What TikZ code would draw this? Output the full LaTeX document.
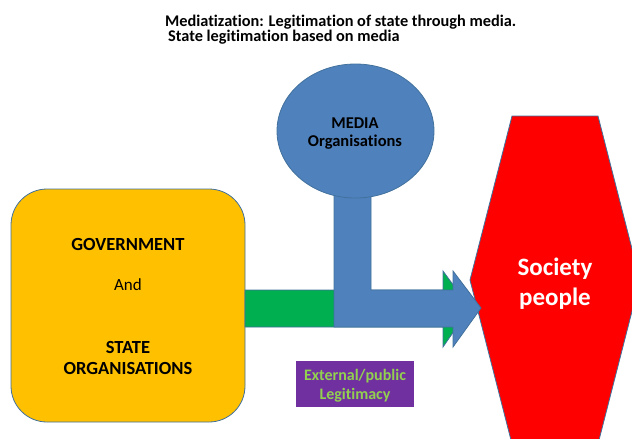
\documentclass[tikz,border=0pt]{standalone}
\usepackage{fontspec}
\setmainfont{Carlito}[Ligatures={NoCommon}]
\usetikzlibrary{shapes.geometric}
\definecolor{edge}{HTML}{41719C}
\definecolor{gold}{HTML}{FFC000}
\definecolor{grn}{HTML}{00B050}
\definecolor{blu}{HTML}{4F81BD}
\definecolor{purp}{HTML}{7030A0}
\definecolor{lgrn}{HTML}{92D050}
\tikzset{
  blk/.style={draw=edge, line width=0.8pt},
  lbl/.style={inner sep=0pt, anchor=base},
}
\begin{document}
\begin{tikzpicture}[x=1pt,y=-1pt]
\useasboundingbox (0,0) rectangle (632,439);
% title
\node[inner sep=0pt, anchor=base west, font=\bfseries\fontsize{16.3}{15}\selectfont] (t1) at (165,26) {Mediatization: Legitimation of state through media.};
\node[inner sep=0pt, anchor=base west, font=\bfseries\fontsize{16.3}{15}\selectfont] (t2) at (168,41) {State legitimation based on media};
% government box
\draw[blk, fill=gold, rounded corners=36pt] (11,189) rectangle (245,422);
\node[lbl, font=\bfseries\fontsize{18.5}{20}\selectfont] (g1) at (128,250) {GOVERNMENT};
\node[lbl, font=\fontsize{17}{18}\selectfont] (g2) at (128,290) {And};
\node[lbl, font=\bfseries\fontsize{18.5}{20}\selectfont] (g3) at (128,353) {STATE};
\node[lbl, font=\bfseries\fontsize{18.5}{20}\selectfont] (g4) at (128,374) {ORGANISATIONS};
% society hexagon
\draw[blk, fill=red] (512,116) -- (598,116) -- (640,280) -- (598,444) -- (512,444) -- (470,280) -- cycle;
\node[lbl, text=white, font=\bfseries\fontsize{25}{30}\selectfont] (s1) at (555,275) {Society};
\node[lbl, text=white, font=\bfseries\fontsize{25}{30}\selectfont] (s2) at (555,305) {people};
% green arrow
\draw[blk, fill=grn] (245,290) -- (443,290) -- (443,271) -- (470,308) -- (443,347) -- (443,327) -- (245,327) -- cycle;
% blue bent arrow + ellipse
\draw[blk, fill=blu] (334,190) -- (371,190) -- (371,290) -- (453,290) -- (453,271) -- (481,308) -- (453,347) -- (453,327) -- (334,327) -- cycle;
\draw[blk, fill=blu] (355.5,131) ellipse [x radius=78.5, y radius=67];
\node[lbl, font=\bfseries\fontsize{16.5}{18}\selectfont] (m1) at (355,128) {MEDIA};
\node[lbl, font=\bfseries\fontsize{16.5}{18}\selectfont] (m2) at (355,146) {Organisations};
% purple box
\fill[purp] (296,361) rectangle (414,407);
\node[lbl, text=lgrn, font=\bfseries\fontsize{16}{18}\selectfont] (p1) at (355,380) {External/public};
\node[lbl, text=lgrn, font=\bfseries\fontsize{16}{18}\selectfont] (p2) at (355,399) {Legitimacy};
\end{tikzpicture}
\end{document}
